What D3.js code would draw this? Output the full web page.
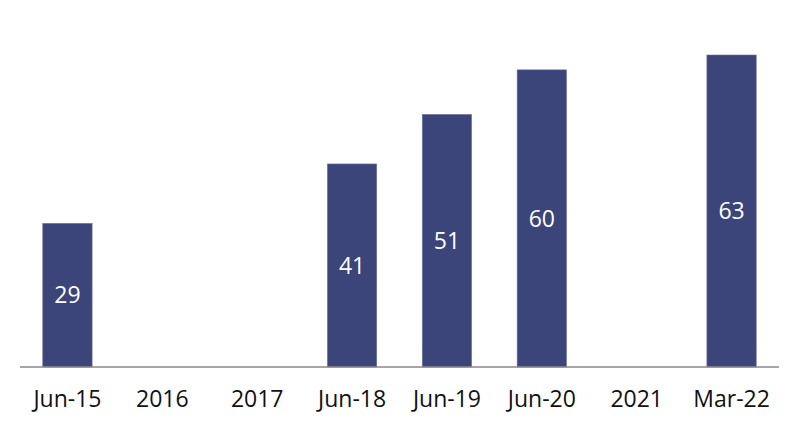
<!DOCTYPE html>
<html>
<head>
<meta charset="utf-8">
<script src="https://cdn.jsdelivr.net/npm/d3@7"></script>
<style>
  body { margin: 0; background: #fff; }
  svg { display: block; font-family: "Open Sans", "Noto Sans", sans-serif; }
</style>
</head>
<body>
<svg></svg>
<script>
let categories = ['Jun-15', '2016', '2017', 'Jun-18', 'Jun-19', 'Jun-20', '2021', 'Mar-22'];
let values = [29, null, null, 41, 51, 60, null, 63];

let width = 800;
let height = 427;
let baseline = 367;

let svg = d3.select('svg')
  .attr('width', width)
  .attr('height', height)

let xScale = d3.scaleBand()
  .domain(categories)
  .range([20, 779])
  .paddingInner(0.48)
  .paddingOuter(0.24)

let yScale = d3.scaleLinear()
  .domain([0, 63])
  .range([baseline, 55])

let data = categories.map((c, i) => ({ cat: c, value: values[i] }))
  .filter(d => d.value != null)

svg.selectAll('rect')
  .data(data)
  .enter()
  .append('rect')
  .attr('x', d => xScale(d.cat))
  .attr('y', d => yScale(d.value))
  .attr('width', xScale.bandwidth())
  .attr('height', d => yScale(0) - yScale(d.value))
  .attr('fill', '#3b4579')
  .attr('stroke', '#6a73a0')
  .attr('stroke-width', 0.6)

svg.selectAll('.val')
  .data(data)
  .enter()
  .append('text')
  .attr('class', 'val')
  .attr('x', d => xScale(d.cat) + xScale.bandwidth() / 2)
  .attr('y', d => (yScale(0) + yScale(d.value)) / 2)
  .attr('dy', '0.36em')
  .attr('text-anchor', 'middle')
  .attr('fill', '#fff')
  .attr('font-size', 23)
  .text(d => d.value)

let xAxis = d3.axisBottom(xScale).tickSize(0).tickPadding(24);

let gx = svg.append('g')
  .attr('transform', `translate(0, ${baseline})`)
  .call(xAxis)

gx.select('.domain')
  .attr('d', 'M20,0H779')
  .attr('stroke', '#888')
  .attr('stroke-width', 1.3)

gx.selectAll('text')
  .attr('font-size', 23)
  .attr('fill', '#111')
  .attr('font-family', '"Open Sans", "Noto Sans", sans-serif')
</script>
</body>
</html>
